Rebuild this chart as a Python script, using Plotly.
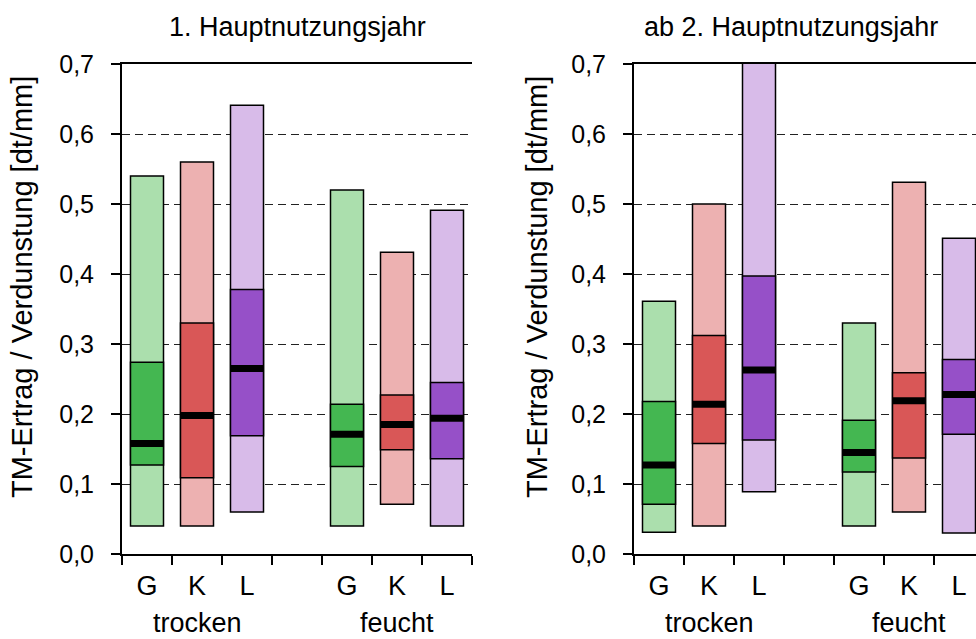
import plotly.graph_objects as go

# ---------------- data ----------------
groups = ["trocken", "feucht"]
species = ["G", "K", "L"]
x_pos = [1, 2, 3, 5, 6, 7]
group_pos = [2, 6]
tick_labels = species + species
panel_titles = ["1. Hauptnutzungsjahr", "ab 2. Hauptnutzungsjahr"]
y_title = "TM-Ertrag / Verdunstung [dt/mm]"
y_ticks = [0.0, 0.1, 0.2, 0.3, 0.4, 0.5, 0.6, 0.7]

# panel 1: 1. Hauptnutzungsjahr
p1_min = [0.040, 0.040, 0.060, 0.040, 0.071, 0.040]
p1_q1 = [0.127, 0.109, 0.169, 0.125, 0.149, 0.136]
p1_med = [0.158, 0.198, 0.265, 0.171, 0.185, 0.194]
p1_q3 = [0.274, 0.330, 0.378, 0.214, 0.227, 0.245]
p1_max = [0.540, 0.560, 0.641, 0.520, 0.431, 0.491]

# panel 2: ab 2. Hauptnutzungsjahr
p2_min = [0.031, 0.040, 0.089, 0.040, 0.060, 0.030]
p2_q1 = [0.071, 0.158, 0.163, 0.117, 0.137, 0.171]
p2_med = [0.127, 0.214, 0.263, 0.145, 0.219, 0.228]
p2_q3 = [0.218, 0.312, 0.397, 0.191, 0.259, 0.278]
p2_max = [0.361, 0.500, 0.720, 0.330, 0.531, 0.451]

# ---------------- style ----------------
light_col = {"G": "#ABDFAD", "K": "#EDB1B1", "L": "#D8BBE9"}
dark_col = {"G": "#44B751", "K": "#D95757", "L": "#9650C8"}
light_colors = [light_col[s] for s in tick_labels]
dark_colors = [dark_col[s] for s in tick_labels]
FONT = "Liberation Sans, Arial, sans-serif"
W, H = 976, 639
BW = 0.66
MED_H = 0.010

fig = go.Figure()

panels = [
    (p1_min, p1_q1, p1_med, p1_q3, p1_max, "x", "y"),
    (p2_min, p2_q1, p2_med, p2_q3, p2_max, "x2", "y2"),
]
for mn, q1, med, q3, mx, xa, ya in panels:
    fig.add_trace(go.Bar(
        x=x_pos, y=[b - a for a, b in zip(mn, mx)], base=mn, width=BW,
        marker=dict(color=light_colors, line=dict(color="black", width=1.5)),
        xaxis=xa, yaxis=ya, showlegend=False, hoverinfo="skip"))
    fig.add_trace(go.Bar(
        x=x_pos, y=[b - a for a, b in zip(q1, q3)], base=q1, width=BW,
        marker=dict(color=dark_colors, line=dict(color="black", width=1.5)),
        xaxis=xa, yaxis=ya, showlegend=False, hoverinfo="skip"))
    fig.add_trace(go.Bar(
        x=x_pos, y=[MED_H] * len(med), base=[m - MED_H / 2 for m in med], width=BW,
        marker=dict(color="black", line=dict(width=0)),
        xaxis=xa, yaxis=ya, showlegend=False, hoverinfo="skip"))

ydom = [(H - 554) / H, (H - 64) / H]

xcommon = dict(
    tickmode="array", tickvals=x_pos, ticktext=tick_labels, ticks="",
    showline=True, linecolor="black", linewidth=2, mirror=True,
    showgrid=False, zeroline=False, automargin=False,
    tickfont=dict(size=27, family=FONT, color="black"),
    ticklabelstandoff=7,
    minor=dict(tickmode="linear", tick0=0.5, dtick=1, ticks="outside",
               ticklen=9, tickwidth=1.5, tickcolor="black", showgrid=False),
)
ycommon = dict(
    range=[0, 0.7], tickmode="array", tickvals=y_ticks, tickformat=".1f",
    ticks="outside", ticklen=9, tickwidth=1.5, tickcolor="black",
    showline=True, linecolor="black", linewidth=2,
    showgrid=True, gridcolor="#222222", gridwidth=1.4, griddash="8px,5px",
    zeroline=False, domain=ydom, automargin=False,
    tickfont=dict(size=25, family=FONT, color="black"),
    ticklabelstandoff=12,
)

fig.update_layout(
    width=W, height=H,
    margin=dict(l=0, r=0, t=0, b=0, pad=0, autoexpand=False),
    paper_bgcolor="white", plot_bgcolor="white",
    separators=",.",
    barmode="overlay",
    showlegend=False,
    font=dict(family=FONT, color="black"),
    xaxis=dict(domain=[122 / W, 472 / W], range=[0.5, 7.5], anchor="y", **xcommon),
    yaxis=dict(anchor="x", **ycommon),
    xaxis2=dict(domain=[634 / W, 1.0], range=[0.5, 0.5 + (W - 634) / 50], anchor="y2", **xcommon),
    yaxis2=dict(anchor="x2", **ycommon),
)

# panel titles
for title, xc in zip(panel_titles, [297, 791]):
    fig.add_annotation(text=title, x=xc / W, y=(H - 27) / H, xref="paper", yref="paper",
                       showarrow=False, xanchor="center", yanchor="middle",
                       font=dict(size=27, family=FONT, color="black"))
# y-axis titles
for xc in [22, 537]:
    fig.add_annotation(text=y_title, x=xc / W, y=(H - 287) / H, xref="paper", yref="paper",
                       showarrow=False, textangle=-90, xanchor="center", yanchor="middle",
                       font=dict(size=29, family=FONT, color="black"))
# group labels
for xa in ["x", "x2"]:
    for g, gp in zip(groups, group_pos):
        fig.add_annotation(text=g, x=gp, y=0, xref=xa, yref="paper",
                           showarrow=False, xanchor="center", yanchor="bottom",
                           borderpad=0,
                           font=dict(size=27, family=FONT, color="black"))

fig.write_html("out.html")
